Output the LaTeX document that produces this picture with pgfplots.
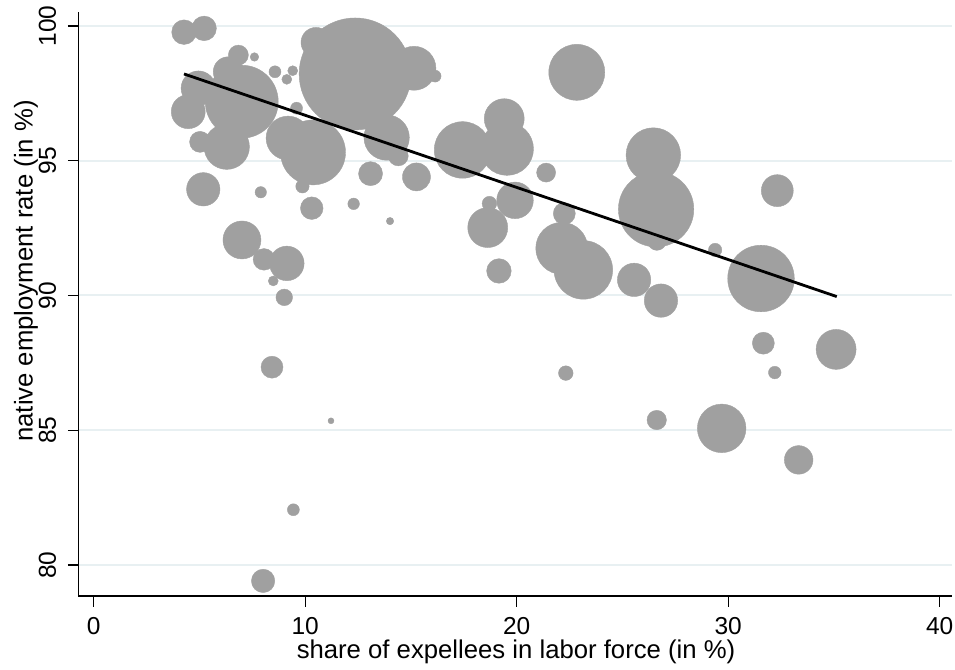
\documentclass[border=0pt]{standalone}
\usepackage{fontspec}
\setmainfont{Liberation Sans}
\usepackage{pgfplots}
\usepackage{pgfplotstable}
\pgfplotsset{compat=1.18}
\definecolor{bub}{RGB}{160,160,160}
\definecolor{gridc}{RGB}{232,240,242}
\pgfplotstableread{
x y r
4.27 99.77 12.3
5.22 99.91 12.3
4.47 96.82 17
5.03 95.70 10.5
6.29 95.52 22.7
7.00 97.19 36.5
4.95 97.69 17.3
6.84 98.92 10
7.60 98.85 4.3
6.36 98.30 15
8.57 98.30 6
9.41 98.34 5
9.13 98.02 5
9.59 96.95 6
12.36 98.22 56
10.51 99.39 15
15.14 98.43 22
16.14 98.14 6
13.85 95.86 22.7
14.40 95.18 10
9.19 95.84 22
10.37 95.31 32.5
9.87 94.05 6.7
13.09 94.52 12
15.26 94.40 14
17.44 95.40 28.3
5.18 93.94 16.7
7.90 93.83 5.7
10.31 93.24 11.3
12.29 93.40 5.8
14.01 92.76 3.7
7.01 92.06 19
8.05 91.34 10.8
9.13 91.19 17.3
8.49 90.54 5
9.01 89.93 8.3
8.43 87.34 11
11.22 85.35 3
9.44 82.05 6
8.01 79.41 11.7
22.84 98.28 28
19.41 96.56 20
19.54 95.44 26.5
21.39 94.56 9.5
19.92 93.53 18.3
18.71 93.41 7.3
18.63 92.52 20
22.25 93.04 11
19.16 90.91 12.3
22.13 91.75 26
23.15 90.95 29.3
26.46 95.21 27.3
26.59 93.20 37.7
26.63 92.02 9.3
25.55 90.58 16.7
26.82 89.81 16.7
29.38 91.69 6.7
31.55 90.63 33.3
32.32 93.89 16
31.66 88.23 11
35.10 88.00 20
22.32 87.12 7.3
32.20 87.14 6.3
26.62 85.38 9.7
29.69 85.07 24.3
33.33 83.90 14.3
}\bubbles
\begin{document}
\begin{tikzpicture}
\begin{axis}[
  at={(0,0)}, anchor=south west,
  set layers,
  scale only axis, width=873.7pt, height=584.3pt,
  xmin=-0.728, xmax=40.58, ymin=78.85, ymax=100.53,
  axis x line*=bottom, axis y line*=left,
  axis line style={line width=1.2pt, -},
  xtick={0,10,20,30,40}, ytick={80,85,90,95,100},
  tick align=outside, major tick length=10.5pt,
  tick style={line width=1.2pt, black},
  ymajorgrids, major grid style={gridc, line width=2pt},
  /pgf/number format/assume math mode=true,
  ticklabel style={font=\fontsize{24.5}{29}\selectfont},
  xticklabel style={yshift=-27.8pt, anchor=base},
  yticklabel style={xshift=-11.8pt, rotate=90, anchor=base},
  label style={font=\fontsize{25.7}{30}\selectfont},
  xlabel={share of expellees in labor force (in \%)},
  ylabel={native employment rate (in \%)},
  xlabel style={at={(axis description cs:0.501,-0.107)}, anchor=base},
  ylabel style={at={(axis description cs:-0.0524,0.5562)}, rotate=0, anchor=base},
  clip=false,
]
\addplot[
  scatter, only marks, mark=*,
  scatter/use mapped color={draw=bub, fill=bub},
  visualization depends on={\thisrow{r} \as \rad},
  scatter/@pre marker code/.append style={/tikz/mark size=\rad pt},
] table[x=x, y=y] {\bubbles};
\addplot[black, line width=2.8pt, on layer=axis foreground] coordinates {(4.27,98.22) (35.13,89.96)};
\end{axis}
\pgfresetboundingbox
\path[use as bounding box] (-78.3pt,-73pt) rectangle (876.7pt,596pt);
\end{tikzpicture}
\end{document}
